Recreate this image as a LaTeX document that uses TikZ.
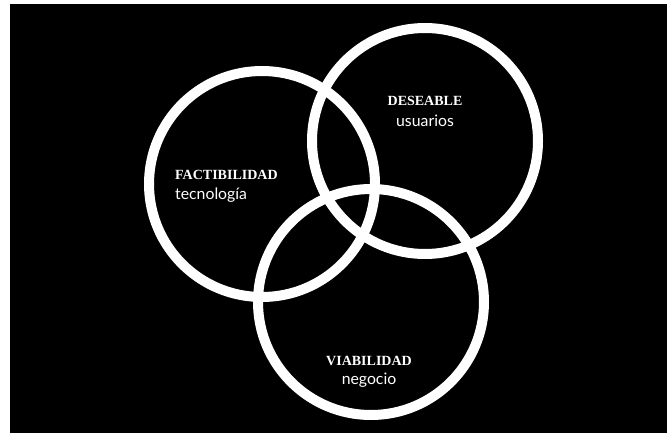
\documentclass[tikz,border=0pt]{standalone}
\usepackage{fontspec}
\setmainfont{Lato}
\newfontfamily\titlefont{Liberation Serif}
\usetikzlibrary{positioning}

\tikzset{
  ring/.style={circle, draw=white, line width=10pt, minimum size=226pt, inner sep=0pt},
  title/.style={text=white, inner sep=0pt, font=\titlefont\bfseries\fontsize{14}{16}\selectfont},
  sub/.style={text=white, inner sep=0pt, font=\fontsize{15.8}{18}\selectfont}
}

\begin{document}
\begin{tikzpicture}[x=1pt,y=-1pt]
  \useasboundingbox (0,0) rectangle (667,433);
  \fill[black] (10,4) rectangle (667,433);

  % the three rings
  \node[ring] (fact) at (262,184) {};
  \node[ring] (des) at (425,141) {};
  \node[ring] (via) at (371,302) {};

  % labels
  \node[title, anchor=base west] (factT) at (175,180) {FACTIBILIDAD};
  \node[sub, anchor=base west] (factS) at (175,200) {tecnología};
  \node[title, anchor=base] (desT) at (425,106) {DESEABLE};
  \node[sub, anchor=base] (desS) at (425,127) {usuarios};
  \node[title, anchor=base] (viaT) at (369,365) {VIABILIDAD};
  \node[sub, anchor=base] (viaS) at (369,384) {negocio};
\end{tikzpicture}
\end{document}
